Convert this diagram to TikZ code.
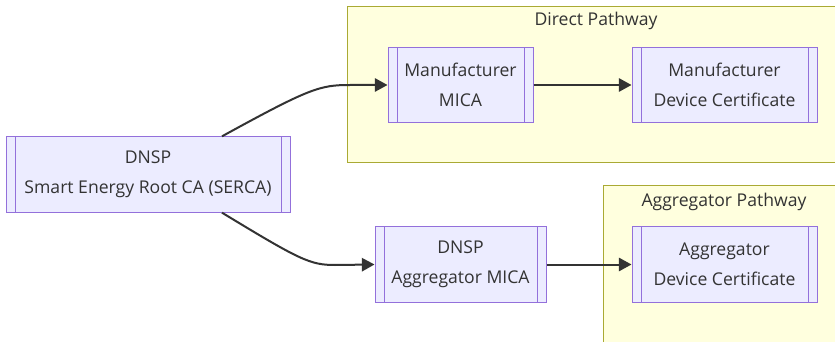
\documentclass[tikz,border=0pt]{standalone}
\usepackage{fontspec}
\setmainfont{Open Sans}
\usepackage{xcolor}
\usetikzlibrary{arrows.meta,calc,positioning}
\definecolor{certfill}{HTML}{ECECFF}
\definecolor{certline}{HTML}{9370DB}
\definecolor{pathfill}{HTML}{FFFFDE}
\definecolor{pathline}{HTML}{AAAA33}
\definecolor{inkgray}{HTML}{333333}
\tikzset{
  cert/.style={draw=certline,fill=certfill,line width=0.75pt,text=inkgray,align=center,
    inner sep=0pt,minimum height=56.5pt,font=\fontsize{13.2}{22.5}\selectfont,
    path picture={\draw[certline,line width=0.75pt]
      ([xshift=6.75pt]path picture bounding box.north west) -- ([xshift=6.75pt]path picture bounding box.south west)
      ([xshift=-6.75pt]path picture bounding box.north east) -- ([xshift=-6.75pt]path picture bounding box.south east);}},
  pathway/.style={draw=pathline,fill=pathfill,line width=0.75pt},
  pathtitle/.style={text=inkgray,font=\fontsize{13.2}{15}\selectfont},
  flow/.style={draw=inkgray,line width=1.5pt,-{Triangle[length=9.5pt,width=10pt]}},
}

\begin{document}
\begin{tikzpicture}[x=0.75pt,y=-0.75pt]
  \useasboundingbox (0,0) rectangle (835,342);
  % 两个分组的背景
  \draw[pathway] (347,7) rectangle (850,163);
  \node[pathtitle] (directtitle) at (596,21) {Direct Pathway};
  \draw[pathway] (603,186) rectangle (850,360);
  \node[pathtitle] (aggtitle) at (724,202) {Aggregator Pathway};
  % 证书节点
  \node[cert,minimum width=213pt] (serca) at (148,174.5) {DNSP\\Smart Energy Root CA (SERCA)};
  \node[cert,minimum width=108.75pt] (mfrmica) at (460.5,85) {Manufacturer\\MICA};
  \node[cert,minimum width=138.75pt] (mfrdev) at (724.5,85) {Manufacturer\\Device Certificate};
  \node[cert,minimum width=128.25pt] (aggmica) at (460.5,264.5) {DNSP\\Aggregator MICA};
  \node[cert,minimum width=138.75pt] (aggdev) at (724.5,264.5) {Aggregator\\Device Certificate};
  % 连线
  \draw[flow] ([xshift=55.5pt]serca.north) .. controls (310,88) and (320,85) .. (350,85) -- (mfrmica.west);
  \draw[flow] ([xshift=55.5pt]serca.south) .. controls (300,260) and (310,265) .. (335,265) -- (aggmica.west);
  \draw[flow] (mfrmica) -- (mfrdev);
  \draw[flow] (aggmica) -- (aggdev);
\end{tikzpicture}
\end{document}
